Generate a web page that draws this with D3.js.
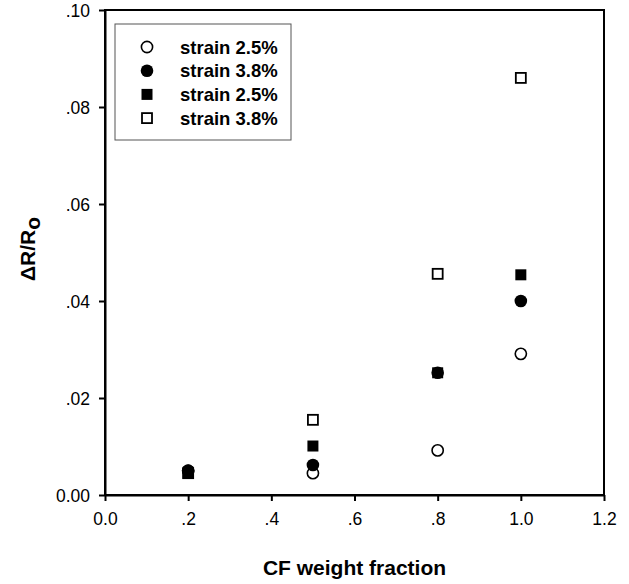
<!DOCTYPE html>
<html>
<head>
<meta charset="utf-8">
<script src="https://cdn.jsdelivr.net/npm/d3@7"></script>
<style>
  body { margin: 0; background: #fff; }
  text { font-family: "Liberation Sans", Arial, sans-serif; fill: #000; }
</style>
</head>
<body>
<div id="chart"></div>
<script>
// values
var fractions = [0.2, 0.5, 0.8, 1.0];
var openCircle   = [0.0050, 0.0045, 0.0092, 0.0291]; // strain 2.5%
var filledCircle = [0.0050, 0.0062, 0.0252, 0.0400]; // strain 3.8%
var filledSquare = [0.0045, 0.0101, 0.0252, 0.0454]; // strain 2.5%
var openSquare   = [0.0045, 0.0155, 0.0456, 0.0860]; // strain 3.8%
var xTicks = [0, 0.2, 0.4, 0.6, 0.8, 1.0, 1.2];
var xTickLabels = ["0.0", ".2", ".4", ".6", ".8", "1.0", "1.2"];
var yTicks = [0, 0.02, 0.04, 0.06, 0.08, 0.10];
var yTickLabels = ["0.00", ".02", ".04", ".06", ".08", ".10"];

var series = [
  {name: "strain 2.5%", shape: "circle", fill: false, values: openCircle},
  {name: "strain 3.8%", shape: "circle", fill: true, values: filledCircle},
  {name: "strain 2.5%", shape: "square", fill: true, values: filledSquare},
  {name: "strain 3.8%", shape: "square", fill: false, values: openSquare}
];

var width = 629, height = 584;
var margin = {top: 10, right: 25, bottom: 89, left: 105};
var w = width - margin.left - margin.right,
    h = height - margin.top - margin.bottom;

var svg = d3.select("#chart").append("svg")
    .attr("width", width)
    .attr("height", height);

var g = svg.append("g")
    .attr("transform", "translate(" + margin.left + "," + margin.top + ")");

var x = d3.scaleLinear().domain([0, 1.2]).range([0, w]);
var y = d3.scaleLinear().domain([0, 0.10]).range([h, 0]);

// frame
g.append("rect")
    .attr("width", w).attr("height", h)
    .attr("fill", "none").attr("stroke", "#000").attr("stroke-width", 2);

var xAxis = g.append("g")
    .attr("transform", "translate(0," + h + ")")
    .call(d3.axisBottom(x).tickValues(xTicks)
      .tickFormat(function(d, i) { return xTickLabels[i]; })
      .tickSizeInner(6).tickSizeOuter(0).tickPadding(12));

var yAxis = g.append("g")
    .call(d3.axisLeft(y).tickValues(yTicks)
      .tickFormat(function(d, i) { return yTickLabels[i]; })
      .tickSizeInner(6).tickSizeOuter(0).tickPadding(9));

[xAxis, yAxis].forEach(function(a) {
  a.select(".domain").attr("stroke-width", 2);
  a.selectAll(".tick line").attr("stroke-width", 2);
  a.selectAll(".tick text")
    .style("font-family", "'Liberation Sans', Arial, sans-serif")
    .style("font-size", "17.5px");
});
yAxis.selectAll(".tick text").attr("dy", "0.36em");

// points
function drawMark(sel, s, cx, cy) {
  if (s.shape === "circle") {
    sel.append("circle")
      .attr("cx", cx).attr("cy", cy).attr("r", s.fill ? 6.3 : 5.6)
      .attr("fill", s.fill ? "#000" : "#fff")
      .attr("stroke", "#000").attr("stroke-width", s.fill ? 0 : 1.6);
  } else {
    var sz = s.fill ? 11 : 10;
    sel.append("rect")
      .attr("x", cx - sz / 2).attr("y", cy - sz / 2)
      .attr("width", sz).attr("height", sz)
      .attr("fill", s.fill ? "#000" : "#fff")
      .attr("stroke", "#000").attr("stroke-width", s.fill ? 0 : 1.8);
  }
}

// draw open square first so the others sit on top at 0.2
[3, 0, 2, 1].forEach(function(k) {
  var s = series[k];
  var layer = g.append("g");
  s.values.forEach(function(v, i) {
    drawMark(layer, s, x(fractions[i]), y(v));
  });
});

// legend
var legend = svg.append("g").attr("transform", "translate(115,24)");
legend.append("rect")
    .attr("width", 176).attr("height", 116)
    .attr("fill", "#fff").attr("stroke", "#555").attr("stroke-width", 1);
series.forEach(function(s, i) {
  var ry = 23 + i * 23.7;
  drawMark(legend, s, 32, ry);
  legend.append("text")
    .attr("x", 65).attr("y", ry).attr("dy", "0.36em")
    .style("font-size", "18.5px").style("font-weight", "bold")
    .text(s.name);
});

// axis titles
svg.append("text")
    .attr("x", margin.left + w / 2).attr("y", 575)
    .attr("text-anchor", "middle")
    .style("font-size", "21px").style("font-weight", "bold")
    .text("CF weight fraction");

var yt = svg.append("text")
    .attr("transform", "translate(35,249) rotate(-90)")
    .attr("text-anchor", "middle")
    .style("font-size", "21px").style("font-weight", "bold");
yt.append("tspan").text("\u0394R/R");
yt.append("tspan").attr("dy", 5).text("o");
</script>
</body>
</html>
